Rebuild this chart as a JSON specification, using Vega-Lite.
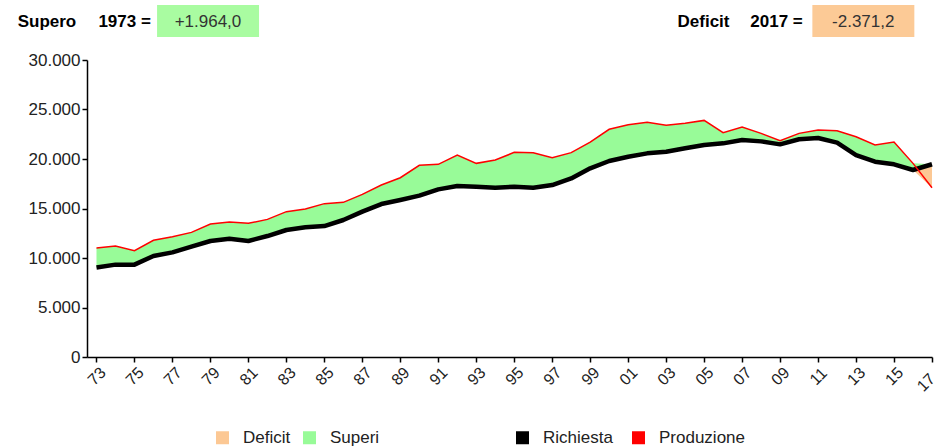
{
  "$schema": "https://vega.github.io/schema/vega-lite/v6.json",
  "width": 845,
  "height": 297,
  "autosize": "none",
  "padding": {"left": 87, "top": 60, "right": 3, "bottom": 91},
  "background": "white",
  "config": {
    "view": {"stroke": null},
    "font": "Liberation Sans",
    "axis": {
      "domainColor": "#000000",
      "domainWidth": 1.5,
      "tickColor": "#000000",
      "tickWidth": 1.5,
      "tickSize": 5,
      "grid": false,
      "labelColor": "#222222",
      "labelFont": "Liberation Sans",
      "labelFontSize": 17
    },
    "legend": {
      "labelFont": "Liberation Sans",
      "labelFontSize": 17,
      "labelColor": "#222222",
      "orient": "none",
      "direction": "horizontal"
    }
  },
  "data": {
    "values": [
      {"Anno": 1973, "Richiesta": 9050, "Produzione": 11014},
      {"Anno": 1974, "Richiesta": 9330, "Produzione": 11210},
      {"Anno": 1975, "Richiesta": 9330, "Produzione": 10740},
      {"Anno": 1976, "Richiesta": 10200, "Produzione": 11790},
      {"Anno": 1977, "Richiesta": 10570, "Produzione": 12150},
      {"Anno": 1978, "Richiesta": 11140, "Produzione": 12590},
      {"Anno": 1979, "Richiesta": 11720, "Produzione": 13430},
      {"Anno": 1980, "Richiesta": 11950, "Produzione": 13640},
      {"Anno": 1981, "Richiesta": 11720, "Produzione": 13500},
      {"Anno": 1982, "Richiesta": 12220, "Produzione": 13900},
      {"Anno": 1983, "Richiesta": 12830, "Produzione": 14680},
      {"Anno": 1984, "Richiesta": 13100, "Produzione": 14950},
      {"Anno": 1985, "Richiesta": 13230, "Produzione": 15490},
      {"Anno": 1986, "Richiesta": 13840, "Produzione": 15620},
      {"Anno": 1987, "Richiesta": 14680, "Produzione": 16430},
      {"Anno": 1988, "Richiesta": 15450, "Produzione": 17370},
      {"Anno": 1989, "Richiesta": 15860, "Produzione": 18110},
      {"Anno": 1990, "Richiesta": 16300, "Produzione": 19360},
      {"Anno": 1991, "Richiesta": 16930, "Produzione": 19460},
      {"Anno": 1992, "Richiesta": 17270, "Produzione": 20400},
      {"Anno": 1993, "Richiesta": 17200, "Produzione": 19560},
      {"Anno": 1994, "Richiesta": 17100, "Produzione": 19900},
      {"Anno": 1995, "Richiesta": 17200, "Produzione": 20670},
      {"Anno": 1996, "Richiesta": 17100, "Produzione": 20640},
      {"Anno": 1997, "Richiesta": 17370, "Produzione": 20130},
      {"Anno": 1998, "Richiesta": 18040, "Produzione": 20640},
      {"Anno": 1999, "Richiesta": 19060, "Produzione": 21700},
      {"Anno": 2000, "Richiesta": 19800, "Produzione": 23000},
      {"Anno": 2001, "Richiesta": 20230, "Produzione": 23470},
      {"Anno": 2002, "Richiesta": 20570, "Produzione": 23700},
      {"Anno": 2003, "Richiesta": 20740, "Produzione": 23400},
      {"Anno": 2004, "Richiesta": 21080, "Produzione": 23600},
      {"Anno": 2005, "Richiesta": 21410, "Produzione": 23900},
      {"Anno": 2006, "Richiesta": 21580, "Produzione": 22660},
      {"Anno": 2007, "Richiesta": 21920, "Produzione": 23230},
      {"Anno": 2008, "Richiesta": 21780, "Produzione": 22590},
      {"Anno": 2009, "Richiesta": 21480, "Produzione": 21850},
      {"Anno": 2010, "Richiesta": 21990, "Produzione": 22590},
      {"Anno": 2011, "Richiesta": 22120, "Produzione": 22930},
      {"Anno": 2012, "Richiesta": 21650, "Produzione": 22860},
      {"Anno": 2013, "Richiesta": 20400, "Produzione": 22250},
      {"Anno": 2014, "Richiesta": 19730, "Produzione": 21410},
      {"Anno": 2015, "Richiesta": 19460, "Produzione": 21720},
      {"Anno": 2016, "Richiesta": 18890, "Produzione": 19560},
      {"Anno": 2017, "Richiesta": 19471.2, "Produzione": 17100}
    ]
  },
  "layer": [
    {
      "transform": [
        {"fold": ["Richiesta", "Produzione"], "as": ["serie", "val"]},
        {"joinaggregate": [
          {"op": "min", "field": "val", "as": "lo"},
          {"op": "max", "field": "val", "as": "hi"}
        ], "groupby": ["Anno"]},
        {"filter": "datum.serie === 'Richiesta'"}
      ],
      "layer": [
        {
          "mark": {"type": "area", "opacity": 1},
          "encoding": {
            "x": {"field": "Anno", "type": "quantitative", "title": null},
            "y": {"field": "hi", "type": "quantitative", "title": null},
            "y2": {"field": "val"},
            "fill": {
              "datum": "Superi", "type": "nominal",
              "scale": {"domain": ["Deficit", "Superi"], "range": ["#fcc894", "#98fb98"]},
              "legend": {
                "title": null,
                "legendX": 127,
                "legendY": 369,
                "symbolType": "square",
                "symbolSize": 169,
                "symbolStrokeWidth": 0,
                "labelOffset": 12,
                "columnPadding": 10
              }
            }
          }
        },
        {
          "mark": {"type": "area", "opacity": 1},
          "encoding": {
            "x": {"field": "Anno", "type": "quantitative", "title": null},
            "y": {"field": "val", "type": "quantitative", "title": null},
            "y2": {"field": "lo"},
            "fill": {"datum": "Deficit", "type": "nominal"}
          }
        }
      ]
    },
    {
      "mark": {"type": "line", "strokeWidth": 4.5, "strokeJoin": "round"},
      "encoding": {
        "x": {
          "field": "Anno", "type": "quantitative",
          "scale": {"domain": [1972.5, 2017], "nice": false, "zero": false},
          "axis": {
            "title": null,
            "values": [1973,1975,1977,1979,1981,1983,1985,1987,1989,1991,1993,1995,1997,1999,2001,2003,2005,2007,2009,2011,2013,2015,2017],
            "tickCount": 60,
            "labelExpr": "substring(toString(datum.value), 2, 4)",
            "labelAngle": -45,
            "labelAlign": {"condition": {"test": "datum.value >= 2017", "value": "right"}, "value": "center"},
            "labelBaseline": "middle",
            "labelPadding": 14,
            "labelFontSize": 16,
            "labelOverlap": false,
            "labelFlush": false,
            "labelBound": false
          }
        },
        "y": {
          "field": "Richiesta", "type": "quantitative",
          "scale": {"domain": [0, 30000], "nice": false},
          "axis": {
            "title": null,
            "values": [0, 5000, 10000, 15000, 20000, 25000, 30000],
            "tickCount": 20,
            "labelExpr": "replace(format(datum.value, ','), ',', '.')",
            "labelPadding": 2
          }
        },
        "stroke": {
          "datum": "Richiesta", "type": "nominal",
          "scale": {"domain": ["Richiesta", "Produzione"], "range": ["#000000", "#ff0000"]},
          "legend": {
            "title": null,
            "legendX": 427,
            "legendY": 369,
            "symbolType": "square",
            "symbolSize": 36,
            "symbolStrokeWidth": 7,
            "labelOffset": 12,
            "columnPadding": 8
          }
        }
      }
    },
    {
      "mark": {"type": "line", "strokeWidth": 1.5},
      "encoding": {
        "x": {"field": "Anno", "type": "quantitative", "title": null},
        "y": {"field": "Produzione", "type": "quantitative", "title": null},
        "stroke": {"datum": "Produzione", "type": "nominal"}
      }
    },
    {
      "data": {"values": [{}]},
      "mark": {"type": "rect", "color": "#a9fca1"},
      "encoding": {
        "x": {"datum": 1976.19, "type": "quantitative", "title": null},
        "x2": {"datum": 1981.56},
        "y": {"datum": 35556, "type": "quantitative", "title": null},
        "y2": {"datum": 32323}
      }
    },
    {
      "data": {"values": [{}]},
      "mark": {"type": "rect", "color": "#fcca96"},
      "encoding": {
        "x": {"datum": 2010.7, "type": "quantitative", "title": null},
        "x2": {"datum": 2016.07},
        "y": {"datum": 35556, "type": "quantitative", "title": null},
        "y2": {"datum": 32323}
      }
    },
    {
      "data": {"values": [{"t": "Supero"}]},
      "mark": {"type": "text", "align": "left", "baseline": "middle", "fontWeight": "bold", "fontSize": 17, "color": "#000000"},
      "encoding": {
        "x": {"datum": 1968.85, "type": "quantitative", "title": null},
        "y": {"datum": 33850, "type": "quantitative", "title": null},
        "text": {"field": "t"}
      }
    },
    {
      "data": {"values": [{"t": "1973 ="}]},
      "mark": {"type": "text", "align": "left", "baseline": "middle", "fontWeight": "bold", "fontSize": 17, "color": "#000000"},
      "encoding": {
        "x": {"datum": 1973.1, "type": "quantitative", "title": null},
        "y": {"datum": 33850, "type": "quantitative", "title": null},
        "text": {"field": "t"}
      }
    },
    {
      "data": {"values": [{"t": "+1.964,0"}]},
      "mark": {"type": "text", "align": "center", "baseline": "middle", "fontSize": 17, "color": "#333333"},
      "encoding": {
        "x": {"datum": 1978.87, "type": "quantitative", "title": null},
        "y": {"datum": 33850, "type": "quantitative", "title": null},
        "text": {"field": "t"}
      }
    },
    {
      "data": {"values": [{"t": "Deficit"}]},
      "mark": {"type": "text", "align": "left", "baseline": "middle", "fontWeight": "bold", "fontSize": 17, "color": "#000000"},
      "encoding": {
        "x": {"datum": 2003.6, "type": "quantitative", "title": null},
        "y": {"datum": 33850, "type": "quantitative", "title": null},
        "text": {"field": "t"}
      }
    },
    {
      "data": {"values": [{"t": "2017 ="}]},
      "mark": {"type": "text", "align": "left", "baseline": "middle", "fontWeight": "bold", "fontSize": 17, "color": "#000000"},
      "encoding": {
        "x": {"datum": 2007.43, "type": "quantitative", "title": null},
        "y": {"datum": 33850, "type": "quantitative", "title": null},
        "text": {"field": "t"}
      }
    },
    {
      "data": {"values": [{"t": "-2.371,2"}]},
      "mark": {"type": "text", "align": "center", "baseline": "middle", "fontSize": 17, "color": "#333333"},
      "encoding": {
        "x": {"datum": 2013.38, "type": "quantitative", "title": null},
        "y": {"datum": 33850, "type": "quantitative", "title": null},
        "text": {"field": "t"}
      }
    }
  ]
}
